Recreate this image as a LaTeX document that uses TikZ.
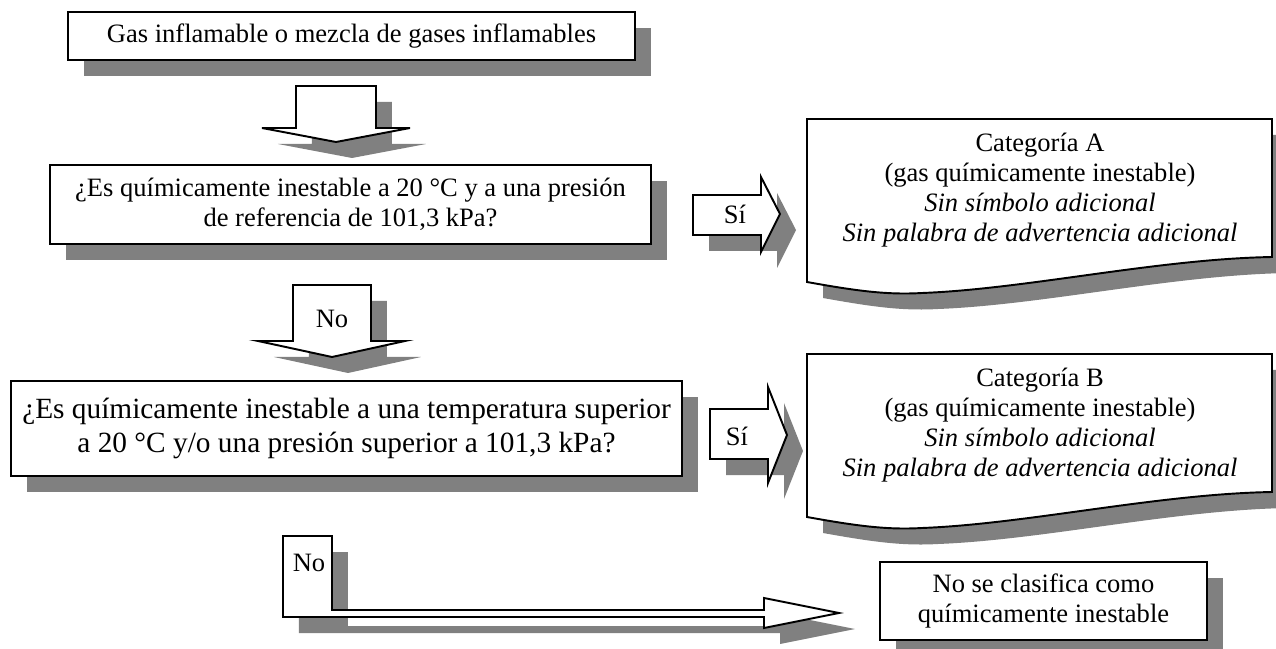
\documentclass[tikz,border=0pt]{standalone}
\usepackage{fontspec}
\setmainfont{Liberation Serif}
\usetikzlibrary{shadows}
\definecolor{shadowgray}{rgb}{.5,.5,.5}

\begin{document}
\begin{tikzpicture}[x=0.02cm, y=-0.02cm, align=center, font=\fontsize{15.1pt}{17pt}\selectfont,
	shd/.style={drop shadow={shadow xshift=0.32cm, shadow yshift=-0.32cm, opacity=1, fill=shadowgray}},
	boxnode/.style={rectangle, draw=black, fill=white, line width=1.1pt, inner sep=0pt, shd},
	blkarrow/.style={draw=black, fill=white, line width=1.1pt, line join=miter, shd},
	docshape/.style={draw=black, fill=white, line width=1.1pt, shd},
	lab/.style={inner sep=0pt}]
	\useasboundingbox (0,0) rectangle (1276,649);
	% \draw[help lines] (0,0) grid (1276,649);
	\node[boxnode, minimum width=11.34cm, minimum height=0.96cm] (gas) at (351.5,36) {Gas inflamable o mezcla de gases inflamables};
	\node[boxnode, minimum width=12.02cm, minimum height=1.58cm] (qa) at (350.5,204.5) {¿Es químicamente inestable a 20 °C y a una presión\\ de referencia de 101,3 kPa?};
	\node[boxnode, minimum width=13.42cm, minimum height=1.90cm, font=\fontsize{16.7pt}{19.3pt}\selectfont] (qb) at (346.5,428.5) {¿Es químicamente inestable a una temperatura superior\\ a 20 °C y/o una presión superior a 101,3 kPa?};
	\node[boxnode, minimum width=6.54cm, minimum height=1.56cm] (nocl) at (1043.5,601) {No se clasifica como\\ químicamente inestable};

	\foreach \cat/\yy in {A/119, B/354}{
		\begin{scope}[shift={(807,\yy)}]
			\draw[docshape] (0,0) -- (465,0) -- (465,138) .. controls (350,140) and (220,170) .. (115,174) .. controls (80,176) and (50,172) .. (0,163) -- cycle;
		\end{scope}
		\node[lab] (cat\cat) at (1040,\yy+71) {Categoría \cat\\ (gas químicamente inestable)\\ \textit{Sin símbolo adicional}\\ \textit{Sin palabra de advertencia adicional}};
	}

	\coordinate (d1) at (296,86);
	\coordinate (d2) at (293,285);
	\coordinate (s1) at (693,195);
	\coordinate (s2) at (710,409);
	\coordinate (l1) at (283,536);
	\draw[blkarrow] (d1) -- ++(80,0) -- ++(0,42) -- ++(34,0) -- ++(-74,14) -- ++(-74,-14) -- ++(34,0) -- cycle;
	\draw[blkarrow] (d2) -- ++(78,0) -- ++(0,56) -- ++(34,0) -- ++(-73,16) -- ++(-74,-16) -- ++(35,0) -- cycle;
	\draw[blkarrow] (s1) -- ++(68,0) -- ++(0,-18) -- ++(19,37) -- ++(-19,38) -- ++(0,-17) -- ++(-68,0) -- cycle;
	\draw[blkarrow] (s2) -- ++(58,0) -- ++(0,-22) -- ++(19,48) -- ++(-19,48) -- ++(0,-24) -- ++(-58,0) -- cycle;
	\draw[blkarrow] (l1) -- ++(49,0) -- ++(0,74) -- ++(432,0) -- ++(0,-12) -- ++(75,15) -- ++(-75,15) -- ++(0,-11) -- ++(-481,0) -- cycle;

	\node[lab] (no1) at (332,319) {No};
	\node[lab] (si1) at (735,214) {Sí};
	\node[lab] (si2) at (737,436) {Sí};
	\node[lab] (no2) at (309,563) {No};
\end{tikzpicture}
\end{document}
